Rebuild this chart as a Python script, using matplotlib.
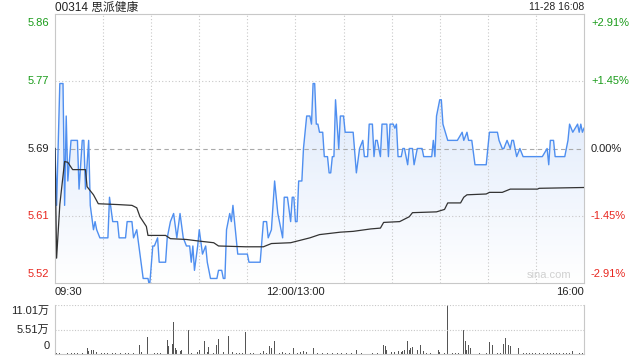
import numpy as np
import matplotlib
matplotlib.use("Agg")
import matplotlib.pyplot as plt
from matplotlib.colors import LinearSegmentedColormap

plt.rcParams['font.family'] = ['Liberation Sans', 'Noto Sans CJK SC', 'DejaVu Sans']

# ---- data (minutes after 09:30, lunch break removed) ----
pre_close = 5.69
pct_ticks = [2.91, 1.455, 0.0, -1.455, -2.91]
pct_labels = ["+2.91%", "+1.45%", "0.00%", "-1.45%", "-2.91%"]
price_labels = ["5.86", "5.77", "5.69", "5.61", "5.52"]
time_labels = ["09:30", "12:00/13:00", "16:00"]

price_t = [0, 1, 3, 5, 6, 7, 8, 10, 14, 15, 17, 18, 19, 21, 22, 24, 25, 26, 28, 33,
           34, 36, 39, 40, 44, 45, 48, 49, 51, 53, 55, 57, 58, 59, 61, 62, 64, 65, 69, 70,
           72, 74, 76, 78, 80, 82, 84, 85, 86, 87, 89, 90, 92, 94, 95, 97, 101, 102, 104, 105,
           106, 107, 109, 110, 111, 112, 114, 120, 121, 128, 130, 132, 133, 135, 137, 139, 142, 143, 145, 147,
           148, 149, 150, 151, 152, 154, 155, 157, 159, 160, 161, 162, 163, 164, 165, 167, 168, 170, 171, 172,
           173, 174, 175, 177, 178, 180, 181, 186, 188, 190, 192, 193, 195, 196, 198, 199, 200, 201, 203, 204,
           207, 208, 209, 211, 212, 213, 214, 216, 217, 218, 220, 221, 223, 224, 226, 229, 230, 235, 236, 237,
           238, 240, 241, 242, 245, 251, 254, 255, 257, 258, 260, 262, 269, 271, 276, 277, 279, 280, 282, 284,
           285, 286, 288, 290, 292, 304, 307, 308, 309, 311, 312, 318, 320, 321, 323, 326, 327, 328, 329, 330]
price_v = [5.69, 5.62, 5.77, 5.77, 5.62, 5.73, 5.65, 5.70, 5.70, 5.64, 5.70, 5.70, 5.64, 5.70, 5.62, 5.59, 5.60, 5.59, 5.58, 5.58,
           5.63, 5.60, 5.60, 5.58, 5.58, 5.60, 5.60, 5.58, 5.59, 5.56, 5.53, 5.53, 5.53, 5.52, 5.57, 5.57, 5.58, 5.55, 5.55, 5.58,
           5.60, 5.61, 5.58, 5.61, 5.58, 5.57, 5.57, 5.55, 5.57, 5.54, 5.57, 5.59, 5.56, 5.57, 5.55, 5.53, 5.53, 5.54, 5.54, 5.53,
           5.53, 5.59, 5.61, 5.60, 5.62, 5.60, 5.56, 5.56, 5.55, 5.55, 5.60, 5.60, 5.58, 5.59, 5.65, 5.61, 5.58, 5.63, 5.63, 5.60,
           5.63, 5.63, 5.60, 5.60, 5.65, 5.65, 5.69, 5.73, 5.73, 5.72, 5.77, 5.77, 5.72, 5.72, 5.71, 5.71, 5.68, 5.68, 5.66, 5.66,
           5.68, 5.68, 5.75, 5.69, 5.73, 5.73, 5.71, 5.71, 5.66, 5.69, 5.70, 5.68, 5.68, 5.72, 5.72, 5.68, 5.70, 5.70, 5.68, 5.72,
           5.72, 5.68, 5.72, 5.72, 5.715, 5.72, 5.68, 5.68, 5.69, 5.69, 5.67, 5.69, 5.69, 5.67, 5.69, 5.69, 5.68, 5.68, 5.70, 5.68,
           5.73, 5.75, 5.75, 5.72, 5.70, 5.70, 5.71, 5.70, 5.71, 5.70, 5.70, 5.67, 5.67, 5.71, 5.71, 5.70, 5.69, 5.69, 5.70, 5.69,
           5.70, 5.70, 5.68, 5.69, 5.68, 5.68, 5.69, 5.67, 5.70, 5.70, 5.68, 5.68, 5.70, 5.72, 5.71, 5.72, 5.71, 5.72, 5.71, 5.715]

avg_t = [0, 1, 3, 6, 8, 11, 19, 20, 24, 27, 39, 48, 51, 53, 55, 57, 58, 69, 72, 82,
         90, 99, 102, 119, 130, 135, 147, 159, 165, 178, 186, 197, 203, 205, 215, 221, 223, 238, 243, 245,
         253, 255, 257, 269, 271, 279, 284, 301, 302, 330]
avg_v = [5.690, 5.555, 5.621, 5.674, 5.673, 5.664, 5.664, 5.643, 5.633, 5.622, 5.621, 5.620, 5.617, 5.606, 5.600, 5.594, 5.583, 5.583, 5.579, 5.578,
         5.576, 5.574, 5.570, 5.569, 5.569, 5.573, 5.574, 5.580, 5.584, 5.587, 5.588, 5.591, 5.592, 5.599, 5.600, 5.606, 5.611, 5.612, 5.615, 5.623,
         5.623, 5.630, 5.633, 5.634, 5.636, 5.636, 5.640, 5.640, 5.641, 5.642]

# volume in units of 万 shares
vol_t = [20, 21, 23, 24, 26, 53, 54, 58, 70, 71, 73, 74, 75, 76, 78, 79, 83, 89, 90, 93,
         95, 96, 101, 102, 105, 108, 111, 113, 119, 130, 134, 135, 136, 137, 142, 149, 153, 155, 157, 161,
         188, 198, 205, 206, 207, 210, 212, 214, 216, 217, 218, 220, 221, 222, 223, 226, 228, 230, 239, 240,
         245, 255, 256, 257, 258, 259, 262, 271, 273, 280, 281, 283, 284, 289, 323, 329]
vol_v = [1.3, 0.7, 0.9, 0.9, 0.45, 2.0, 0.5, 3.9, 3.1, 1.8, 2.2, 7.2, 1.3, 0.9, 0.7, 0.9, 5.4, 0.5, 1.0, 2.9,
         0.45, 1.5, 2.0, 3.3, 0.5, 4.0, 0.5, 0.3, 4.9, 0.7, 1.8, 1.4, 1.3, 2.9, 0.4, 1.3, 0.5, 0.7, 0.5, 1.3,
         0.9, 0.3, 2.0, 1.8, 0.9, 0.45, 0.5, 0.7, 0.5, 0.7, 1.0, 3.0, 1.0, 1.3, 1.5, 0.9, 2.0, 0.75, 0.9, 0.45,
         11.01, 5.4, 3.0, 1.0, 2.0, 1.3, 1.8, 2.8, 2.0, 2.2, 3.5, 2.0, 1.8, 1.3, 0.7, 0.3]
small_t = [1, 3, 5, 8, 10, 12, 14, 17, 29, 31, 33, 36, 38, 41, 44, 46, 49, 62, 64, 66,
           85, 99, 115, 117, 122, 124, 126, 128, 132, 140, 144, 146, 151, 164, 167, 170, 173, 176, 179, 182,
           185, 191, 194, 201, 232, 234, 243, 248, 250, 252, 265, 267, 269, 276, 278, 292, 294, 296, 298, 300,
           302, 305, 307, 309, 311, 313, 315, 317, 319, 321, 325, 327]
small_v = [0.3, 0.2, 0.3, 0.2, 0.3, 0.2, 0.3, 0.2, 0.2, 0.3, 0.2, 0.3, 0.2, 0.2, 0.3, 0.2, 0.3, 0.2, 0.3, 0.2,
           0.3, 0.3, 0.2, 0.3, 0.2, 0.3, 0.2, 0.3, 0.2, 0.3, 0.2, 0.3, 0.2, 0.3, 0.2, 0.3, 0.2, 0.3, 0.2, 0.3,
           0.2, 0.3, 0.2, 0.3, 0.2, 0.3, 0.2, 0.3, 0.2, 0.3, 0.2, 0.3, 0.2, 0.3, 0.2, 0.3, 0.2, 0.3, 0.2, 0.3,
           0.2, 0.3, 0.2, 0.3, 0.2, 0.3, 0.2, 0.3, 0.2, 0.3, 0.2, 0.3]
vol_max = 11.01
vol_labels = ["11.01万", "5.51万", "0"]

GREEN = '#1a9c1a'
RED = '#e8261f'
GRID = '#c8c8c8'
FRAME = '#c8c8c8'

fig = plt.figure(figsize=(6.4, 3.6), dpi=100)
ax = fig.add_axes([55 / 640, 77 / 360, 529 / 640, 269 / 360])
axv = fig.add_axes([55 / 640, 6 / 360, 529 / 640, 49 / 360])

ymin = pre_close * (1 - 0.0291)
ymax = pre_close * (1 + 0.0291)
ax.set_xlim(0, 330)
ax.set_ylim(ymin, ymax)

# gradient fill under the price line
cmap = LinearSegmentedColormap.from_list('g', ['#ffffff', '#d3e2fa'])
grad = np.linspace(0, 1, 256).reshape(-1, 1)
im = ax.imshow(grad, extent=[0, 330, ymin, ymax], origin='lower', cmap=cmap,
               aspect='auto', zorder=1)
poly = ax.fill_between(price_t, price_v, ymin, color='none', lw=0)
im.set_clip_path(poly.get_paths()[0], transform=ax.transData)

# grid
for m in range(30, 330, 30):
    ax.axvline(m, color=GRID, lw=0.8, ls=(0, (1, 2)), zorder=2)
for p in [1.455, -1.455]:
    ax.axhline(pre_close * (1 + p / 100), color=GRID, lw=0.8, ls=(0, (1, 2)), zorder=2)
ax.axhline(pre_close, color='#aaaaaa', lw=0.8, ls=(0, (4, 3)), zorder=2)

ax.plot(price_t, price_v, color='#4f8ff0', lw=1.0, zorder=4)
ax.plot(avg_t, avg_v, color='#333333', lw=0.9, zorder=5)

for s in ax.spines.values():
    s.set_color(FRAME)
    s.set_linewidth(0.8)
ax.set_xticks([])
ax.set_yticks([])

# price / percent labels
for i, p in enumerate(pct_ticks):
    y = pre_close * (1 + p / 100)
    c = GREEN if p > 0 else (RED if p < 0 else '#222222')
    va = 'top' if i == 0 else ('bottom' if i == len(pct_ticks) - 1 else 'center')
    dy = -3 if va == 'top' else (3 if va == 'bottom' else 0)
    ax.annotate(price_labels[i], (0, y), xytext=(-4, dy), textcoords='offset points',
                ha='right', va=va, color=c, fontsize=8, annotation_clip=False)
    ax.annotate(pct_labels[i], (330, y), xytext=(5, dy), textcoords='offset points',
                ha='left', va=va, color=c, fontsize=8, annotation_clip=False)

# time labels
for m, lab, ha in zip([0, 150, 330], time_labels, ['left', 'center', 'right']):
    ax.annotate(lab, (m, ymin), xytext=(0, -3), textcoords='offset points',
                ha=ha, va='top', fontsize=8, color='#222222', annotation_clip=False)

fig.text(55 / 640, 1 - 7.5 / 360, "00314 思派健康", ha='left', va='center',
         fontsize=8.5, color='#222222')
fig.text(584 / 640, 1 - 7.5 / 360, "11-28 16:08", ha='right', va='center',
         fontsize=7.5, color='#222222')
ax.text(322, ymin + 0.004, "sina.com", ha='right', va='bottom', fontsize=8,
        color='#d0d0d0', zorder=3)

# volume panel
axv.set_xlim(0, 330)
axv.set_ylim(0, vol_max)
axv.bar(small_t, small_v, width=0.6, color='#555555', lw=0)
axv.bar(vol_t, vol_v, width=0.6, color='#555555', lw=0)
axv.axhline(vol_max / 2, color=GRID, lw=0.8, ls=(0, (1, 1.5)))
axv.axhline(vol_max, color=GRID, lw=0.8, ls=(0, (1, 1.5)))
axv.spines['top'].set_visible(False)
for k in ['left', 'right', 'bottom']:
    axv.spines[k].set_color(FRAME)
    axv.spines[k].set_linewidth(0.8)
axv.set_xticks([])
axv.set_yticks([])
for v, lab, va, dy in zip([vol_max, vol_max / 2, 0], vol_labels, ['top', 'center', 'bottom'], [-1, 0, 2]):
    axv.annotate(lab, (0, v), xytext=(-4, dy), textcoords='offset points',
                 ha='right', va=va, fontsize=8, color='#222222', annotation_clip=False)

fig.savefig("out.png", dpi=100)
